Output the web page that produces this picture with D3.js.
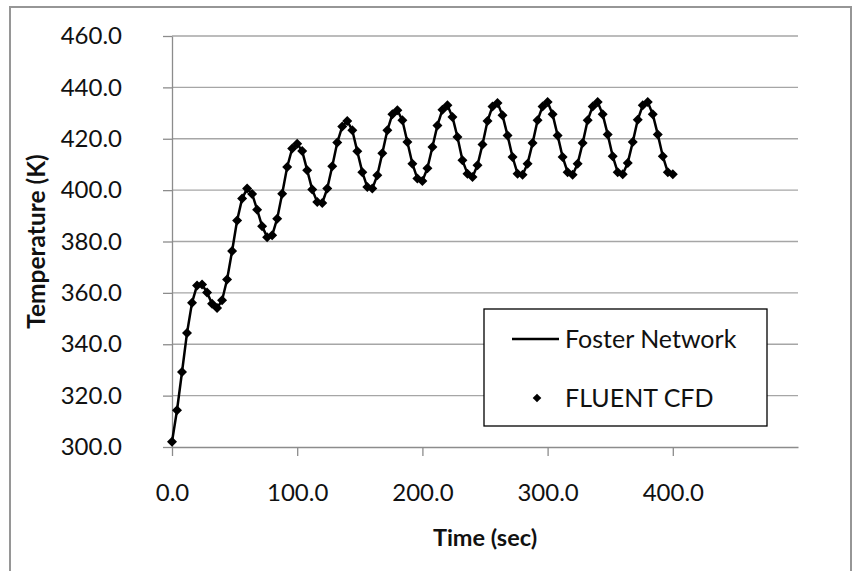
<!DOCTYPE html>
<html>
<head>
<meta charset="utf-8">
<script src="https://cdn.jsdelivr.net/npm/d3@7"></script>
<style>
  body { margin: 0; background: #fff; }
  svg { display: block; font-family: Lato, 'Open Sans', sans-serif; }
</style>
</head>
<body>
<svg></svg>
<script>
const width = 859;
const height = 571;

// time in seconds (sample every 4 s)
const timeSec = [
    0, 4, 8, 12, 16, 20, 24, 28, 32, 36, 40, 44, 48, 52, 56, 60, 64, 68, 72, 76,
    80, 84, 88, 92, 96, 100, 104, 108, 112, 116, 120, 124, 128, 132, 136, 140, 144, 148, 152, 156,
    160, 164, 168, 172, 176, 180, 184, 188, 192, 196, 200, 204, 208, 212, 216, 220, 224, 228, 232, 236,
    240, 244, 248, 252, 256, 260, 264, 268, 272, 276, 280, 284, 288, 292, 296, 300, 304, 308, 312, 316,
    320, 324, 328, 332, 336, 340, 344, 348, 352, 356, 360, 364, 368, 372, 376, 380, 384, 388, 392, 396,
    400
];

// Foster network model (line)
const fosterNetwork = [
    302.0, 314.3, 329.2, 344.4, 356.2, 362.9, 363.3, 360.1, 355.8, 354.1,
    357.1, 365.2, 376.3, 388.2, 396.7, 400.6, 398.5, 392.4, 385.9, 381.7,
    382.4, 388.9, 398.6, 409.0, 416.2, 418.1, 415.2, 407.7, 400.2, 395.4,
    395.0, 400.6, 409.3, 418.5, 424.8, 426.9, 423.3, 415.1, 407.0, 401.2,
    400.6, 405.8, 414.4, 423.3, 429.5, 431.1, 427.2, 418.7, 410.3, 404.5,
    403.6, 408.5, 416.8, 425.2, 431.3, 433.0, 428.5, 420.7, 411.6, 406.4,
    405.1, 409.7, 417.8, 426.9, 432.6, 433.9, 429.1, 421.3, 412.9, 406.4,
    406.0, 410.3, 418.3, 427.2, 432.6, 434.3, 429.5, 421.3, 412.9, 407.0,
    406.0, 410.3, 418.3, 427.2, 432.6, 434.3, 429.5, 421.7, 413.2, 407.0,
    406.2, 410.6, 418.7, 427.4, 433.0, 434.3, 429.5, 421.7, 413.2, 407.0,
    406.2
];

// FLUENT CFD results (markers) - sit right on the Foster curve
const fluentCfd = [
    302.0, 314.3, 329.2, 344.4, 356.2, 362.9, 363.3, 360.1, 355.8, 354.1,
    357.1, 365.2, 376.3, 388.2, 396.7, 400.6, 398.5, 392.4, 385.9, 381.7,
    382.4, 388.9, 398.6, 409.0, 416.2, 418.1, 415.2, 407.7, 400.2, 395.4,
    395.0, 400.6, 409.3, 418.5, 424.8, 426.9, 423.3, 415.1, 407.0, 401.2,
    400.6, 405.8, 414.4, 423.3, 429.5, 431.1, 427.2, 418.7, 410.3, 404.5,
    403.6, 408.5, 416.8, 425.2, 431.3, 433.0, 428.5, 420.7, 411.6, 406.4,
    405.1, 409.7, 417.8, 426.9, 432.6, 433.9, 429.1, 421.3, 412.9, 406.4,
    406.0, 410.3, 418.3, 427.2, 432.6, 434.3, 429.5, 421.3, 412.9, 407.0,
    406.0, 410.3, 418.3, 427.2, 432.6, 434.3, 429.5, 421.7, 413.2, 407.0,
    406.2, 410.6, 418.7, 427.4, 433.0, 434.3, 429.5, 421.7, 413.2, 407.0,
    406.2
];

const xTicks = [0, 100, 200, 300, 400];
const yTicks = [300, 320, 340, 360, 380, 400, 420, 440, 460];
const legendLabels = ['Foster Network', 'FLUENT CFD'];

const margin = { top: 36, right: 61, bottom: 124, left: 172 };

const svg = d3.select('svg')
    .attr('width', width)
    .attr('height', height);

// outer chart frame
svg.append('rect')
    .attr('x', 10)
    .attr('y', 7)
    .attr('width', 841)
    .attr('height', 600)
    .attr('fill', '#fff')
    .attr('stroke', '#969696')
    .attr('stroke-width', 2);

const x = d3.scaleLinear()
    .domain([0, 500])
    .range([margin.left, width - margin.right]);

const y = d3.scaleLinear()
    .domain([300, 460])
    .range([height - margin.bottom, margin.top]);

// horizontal gridlines
svg.append('g')
    .selectAll('line')
    .data(yTicks.slice(1))
    .enter().append('line')
    .attr('x1', x(0))
    .attr('x2', x(500))
    .attr('y1', d => y(d))
    .attr('y2', d => y(d))
    .attr('stroke', '#a6a6a6')
    .attr('stroke-width', 1.3);

const yAxis = svg.append('g')
    .attr('transform', `translate(${x(0)},0)`)
    .call(d3.axisLeft(y).tickValues(yTicks).tickSize(9).tickSizeOuter(0).tickPadding(41).tickFormat(d3.format('.1f')));

const xAxis = svg.append('g')
    .attr('transform', `translate(0,${y(300)})`)
    .call(d3.axisBottom(x).tickValues(xTicks).tickSize(9).tickSizeOuter(0).tickPadding(28).tickFormat(d3.format('.1f')));

[xAxis, yAxis].forEach(ax => {
    ax.select('.domain').attr('stroke', '#8c8c8c').attr('stroke-width', 1.3);
    ax.selectAll('.tick line').attr('stroke', '#8c8c8c').attr('stroke-width', 1.3);
    ax.selectAll('.tick text')
        .attr('fill', '#111')
        .style('font-size', '24px')
        .style('font-family', 'Lato, sans-serif');
});

// axis titles
svg.append('text')
    .attr('x', (x(0) + x(500)) / 2)
    .attr('y', 546)
    .attr('text-anchor', 'middle')
    .style('font-size', '23.5px')
    .style('font-weight', 'bold')
    .attr('fill', '#111')
    .text('Time (sec)');

svg.append('text')
    .attr('transform', `translate(45,${(y(300) + y(460)) / 2}) rotate(-90)`)
    .attr('text-anchor', 'middle')
    .style('font-size', '24.5px')
    .style('font-weight', 'bold')
    .attr('fill', '#111')
    .text('Temperature (K)');

const series = timeSec.map((t, i) => ({ t: t, foster: fosterNetwork[i], cfd: fluentCfd[i] }));

const line = d3.line()
    .x(d => x(d.t))
    .y(d => y(d.foster));

svg.append('path')
    .datum(series)
    .attr('d', line)
    .attr('fill', 'none')
    .attr('stroke', '#000')
    .attr('stroke-width', 2.5)
    .attr('stroke-linejoin', 'round');

const diamond = r => `M0,${-r}L${r},0L0,${r}L${-r},0Z`;

svg.append('g')
    .selectAll('path')
    .data(series)
    .enter().append('path')
    .attr('d', diamond(5))
    .attr('transform', d => `translate(${x(d.t)},${y(d.cfd)})`)
    .attr('fill', '#000');

// legend
const legend = svg.append('g')
    .attr('transform', 'translate(484,309)');

legend.append('rect')
    .attr('width', 283)
    .attr('height', 117)
    .attr('fill', '#fff')
    .attr('stroke', '#000')
    .attr('stroke-width', 1.3);

legend.append('line')
    .attr('x1', 28)
    .attr('x2', 75)
    .attr('y1', 30)
    .attr('y2', 30)
    .attr('stroke', '#000')
    .attr('stroke-width', 2.5);

legend.append('path')
    .attr('d', diamond(4.3))
    .attr('transform', 'translate(53,89)')
    .attr('fill', '#000');

legend.selectAll('.legend-text')
    .data(legendLabels)
    .enter().append('text')
    .attr('class', 'legend-text')
    .attr('x', 81)
    .attr('y', (d, i) => 30 + i * 59)
    .attr('dy', '0.35em')
    .style('font-size', '25px')
    .attr('fill', '#111')
    .text(d => d);
</script>
</body>
</html>
